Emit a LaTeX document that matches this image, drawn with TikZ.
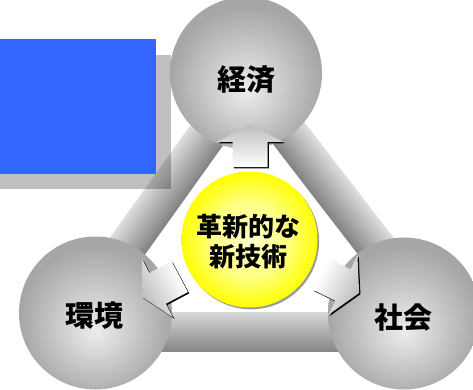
\documentclass[tikz,border=0pt]{standalone}
\usepackage{fontspec}
\newfontfamily\cjk{Noto Sans CJK JP}
\usetikzlibrary{calc}
\definecolor{blueR}{RGB}{51,102,255}
\definecolor{sphin}{RGB}{236,236,236}
\definecolor{sphmid}{RGB}{212,212,212}
\definecolor{sphout}{RGB}{166,166,166}
\definecolor{ylin}{RGB}{255,255,205}
\definecolor{ylmid}{RGB}{255,255,130}
\definecolor{ylout}{RGB}{255,255,0}
\pgfdeclareradialshading{sph}{\pgfpoint{0bp}{-6bp}}{color(0bp)=(sphin); color(9bp)=(sphmid); color(25bp)=(sphout); color(50bp)=(sphout)}
\pgfdeclareradialshading{ylw}{\pgfpoint{0bp}{0bp}}{color(0bp)=(ylin); color(14bp)=(ylmid); color(25bp)=(ylout); color(50bp)=(ylout)}
\tikzset{
  sphere/.style={circle, inner sep=0pt, minimum size=#1, shade, shading=sph, draw=none},
  lbl/.style={font=\cjk\bfseries\fontsize{29}{29}\selectfont, inner sep=0pt},
}
\newcommand{\arrowpath}{(0pt,-17.5pt) -- (25pt,-17.5pt) -- (25pt,-33pt) -- (43pt,0pt) -- (25pt,33pt) -- (25pt,17.5pt) -- (0pt,17.5pt) -- cycle}
\begin{document}
\begin{tikzpicture}[x=1pt,y=-1pt]
\useasboundingbox (0,0) rectangle (473,390);
% bar vertices
\coordinate (A) at (247,79);
\coordinate (B) at (66,332);
\coordinate (C) at (442,332);
% slanted bars, inner side = +offset, dark
\foreach \i in {0,...,37}{
  \pgfmathsetmacro\o{\i-18.5}
  \pgfmathsetmacro\p{13+\i*0.95}
  \draw[line width=1.4pt, black!\p] ($(A)!\o pt!90:(B)$) -- ($(B)!\o pt!-90:(A)$);
  \draw[line width=1.4pt, black!\p] ($(C)!\o pt!90:(A)$) -- ($(A)!\o pt!-90:(C)$);
}
% bottom bar (B->C), inner (top) light
\foreach \i in {0,...,38}{
  \pgfmathsetmacro\o{\i-19}
  \pgfmathsetmacro\p{47-\i*0.8}
  \draw[line width=1.4pt, black!\p] ($(B)!\o pt!90:(C)$) -- ($(C)!\o pt!-90:(B)$);
}
% panel shadow and blue panel
\fill[black, opacity=0.25] (0,55) rectangle (171,189);
\fill[blueR] (0,39) rectangle (156,174);
% spheres
\node[sphere=152pt] (econ) at (246,73) {};
\node[sphere=153pt] (env) at (95.5,313) {};
\node[sphere=152pt] (soc) at (404,313.5) {};
% centre disc
\coordinate (Y) at (249.5,239.5);
\fill[black!40] ($(Y)+(1.6,1.8)$) circle (68);
\node[circle, inner sep=0pt, minimum size=136pt, shade, shading=ylw] (core) at (Y) {};
% arrows
\coordinate (aT) at (250,167);
\coordinate (aL) at (179.7,276.6);
\coordinate (aR) at (320.5,274.1);
\foreach \c/\r in {aT/90, aL/208, aR/-26}{
  \begin{scope}[transform canvas={shift={($(\c)+(1.3,1.3)$)}, rotate=\r}]
    \fill[black] \arrowpath;
  \end{scope}
  \begin{scope}[transform canvas={shift={(\c)}, rotate=\r}]
    \shade[left color=white, right color=black!26] \arrowpath;
  \end{scope}
}
% labels
\node[lbl] (tE) at (246.5,80) {経済};
\node[lbl] (tV) at (94.5,316) {環境};
\node[lbl] (tS) at (403,318) {社会};
\node[font=\cjk\bfseries\fontsize{26}{30}\selectfont, align=center, inner sep=0pt] (tC) at (248,242) {革新的な\\新技術};
\end{tikzpicture}
\end{document}
